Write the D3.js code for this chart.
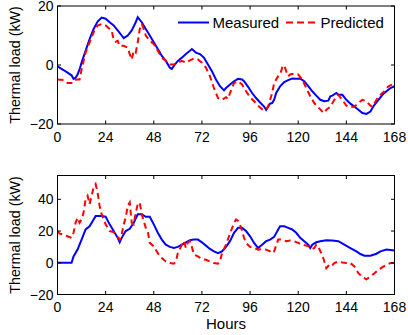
<!DOCTYPE html>
<html><head><meta charset="utf-8">
<script src="https://cdn.jsdelivr.net/npm/d3@7"></script>
<style>body{margin:0;background:#fff}svg{display:block}text{font-family:"Liberation Sans",Arial,sans-serif;fill:#000}</style>
</head><body>
<svg id="c" width="408" height="335"></svg>
<script>
const xTicks = [0,24,48,72,96,120,144,168];
const yTicksTop = [-20,0,20];
const yTicksBot = [-20,0,20,40];
const legendLabels = ["Measured","Predicted"];
const yLabel = "Thermal load (kW)";
const xLabel = "Hours";

const topMeasured = [[0,-0.5],[3,-1.7],[5,-2.6],[7,-3.5],[8,-4.7],[9,-4.3],[10,-3.2],[11,-1.5],[12,0.8],[14,4.8],[16,8.8],[18,12.2],[20,14.7],[22,16.1],[24,15.7],[26,14.5],[28,13.4],[30,11.7],[32,10],[33,9.1],[35,10],[37,11.7],[39,14.5],[40,16.2],[42,14.5],[44,12.2],[46,10],[48,7.7],[50,5.4],[52,3.1],[54,1.4],[56,-0.9],[57,-1.3],[58,-0.3],[60,1.4],[62,2.5],[64,3.7],[66,4.8],[67,5.4],[69,4.2],[71,3.7],[73,2.5],[75,0.2],[77,-2.1],[79,-4.9],[81,-7.2],[83,-8.6],[84,-7.8],[86,-6.6],[88,-5.5],[90,-4.7],[92,-4.9],[93,-5.5],[95,-7.4],[97,-9.5],[99,-11.2],[101,-12.7],[103,-14.1],[104,-15.2],[105,-14.1],[106,-13.1],[107,-12.9],[108,-11.8],[109,-9.5],[111,-7.2],[113,-5.8],[115,-5.1],[117,-4.6],[119,-4.7],[121,-4.6],[123,-5.5],[125,-7.2],[127,-8.9],[129,-10.4],[131,-11.8],[133,-12.3],[135,-12.1],[136,-10.6],[137,-10.4],[139,-9.5],[140,-10.1],[142,-10.1],[144,-11.8],[146,-13.1],[148,-14.1],[150,-15.2],[152,-16.3],[154,-16.6],[156,-15.8],[157,-14.6],[158,-13.5],[160,-11.8],[162,-10.1],[164,-8.9],[166,-7.8],[168,-7.2]];

const topPredicted = [[0,-4.9],[3,-5.1],[5,-6.1],[7,-6.1],[8,-5.1],[10,-4.9],[11,-4.9],[12,-1.5],[14,4.2],[16,7.7],[18,11.1],[20,13.4],[22,13.9],[24,13.4],[26,12.2],[27,11.7],[28,8.6],[29,7.9],[30,8.2],[31,6.5],[33,6.5],[35,5.9],[36,3.7],[37,1.9],[38,4.8],[39,4.2],[40,7.7],[41,12.2],[42,13.9],[43,12.2],[44,10],[46,8.2],[48,7.1],[50,4.8],[52,2.5],[54,1.4],[56,0.2],[58,0.2],[60,0.8],[62,1.4],[64,0.8],[66,1.6],[68,2.2],[70,1.9],[72,0.8],[74,-0.9],[76,-3.8],[78,-7.8],[80,-11.2],[82,-11.8],[84,-10.9],[85,-11.5],[86,-9.5],[88,-6.1],[90,-5.5],[92,-6.6],[94,-8.9],[96,-10.9],[98,-12.3],[100,-13.8],[102,-15],[104,-15.2],[105,-14.1],[106,-11.8],[107,-9.5],[108,-6.1],[110,-3.8],[111,-3.2],[112,-0.9],[113,-0.1],[114,-2.1],[115,-3.8],[116,-3.2],[118,-2.9],[120,-3.2],[122,-4.9],[124,-7.8],[126,-10.6],[128,-12.9],[130,-14.3],[132,-15.8],[133,-16.3],[134,-15.2],[136,-14.1],[138,-11.8],[140,-10.1],[142,-11.8],[144,-13.8],[146,-14.3],[148,-14.1],[150,-12.9],[152,-11.8],[154,-12.3],[156,-13.8],[157,-14.1],[159,-11.8],[161,-10.1],[163,-8.9],[165,-7.2],[167,-6.6],[168,-6.1]];

const botMeasured = [[0,0],[7,0],[8,4],[10,8.3],[12,14.6],[14,21],[16,23],[18,27.3],[19,29.4],[22,29.4],[24,29],[26,24.2],[28,20],[30,15.7],[31,12.9],[32,15.7],[34,20],[36,21.4],[38,25.2],[40,30.5],[42,30.5],[44,29],[46,29],[48,24.2],[50,18.9],[52,14.6],[54,11.4],[56,10],[58,9.3],[60,10],[62,11.4],[64,12.9],[66,14.2],[68,14.6],[70,14.6],[72,12.9],[74,10.8],[76,8.7],[78,7.2],[80,6.1],[82,7.2],[84,10],[86,13.6],[88,18.9],[90,22],[92,22],[94,20],[96,16.7],[98,12.5],[100,9.3],[102,11.4],[104,13.6],[106,14.6],[108,16.3],[110,21],[111,23],[113,23],[115,22],[117,21],[119,18.9],[121,15.7],[123,13.6],[125,11.4],[126,9.3],[127,11.4],[129,12.9],[131,13.6],[134,14.2],[137,14],[140,13.6],[143,11.4],[146,9.3],[149,7.2],[151,5.5],[153,4.4],[156,4.4],[159,5.7],[161,7.2],[164,8.3],[168,7.8]];

const botPredicted = [[0,20],[1,18.4],[3,17.8],[5,16.7],[7,15.7],[8,18.9],[9,25.2],[10,28.4],[11,25.2],[12,27.3],[13,31.6],[14,40],[15,42.2],[16,36.9],[17,42.2],[18,47.5],[19,49.6],[20,44.3],[21,35.8],[22,30.5],[24,24.2],[26,20],[28,19.3],[30,16.3],[31,14.6],[32,17.8],[33,24.2],[34,28.4],[35,35.8],[36,38],[37,25.2],[38,24.2],[39,31.6],[40,36.9],[41,38],[42,30.5],[43,26.3],[44,22],[45,20],[46,12.5],[48,10.4],[50,6.1],[52,3],[54,0.8],[56,-0.2],[58,-0.6],[59,0.8],[60,6.1],[62,11.4],[63,13.6],[64,9.3],[65,12.9],[66,13.6],[67,10],[68,5.1],[70,4],[72,2.3],[74,1.9],[76,0.8],[78,-0.2],[80,-0.6],[81,0.8],[82,6.1],[84,11.4],[86,18.4],[88,25.2],[89,27.3],[90,26.3],[91,24.2],[92,20],[93,15.7],[94,12.5],[96,10],[98,9.3],[100,8.3],[102,8.7],[104,8.3],[106,7.2],[107,6.1],[108,7.2],[110,14.6],[112,14.6],[114,13.6],[116,14],[118,13.6],[120,12.5],[122,11.4],[124,10.8],[126,10],[127,8.7],[128,9.3],[129,11.4],[130,10.4],[131,7.2],[132,5.1],[133,0.8],[134,-3.4],[135,-1.9],[136,-2.8],[138,-0.2],[140,0.8],[142,0.2],[144,-0.2],[146,-0.2],[148,-2.3],[150,-6.6],[152,-9.1],[154,-10.4],[156,-8.7],[158,-6.6],[160,-4.4],[162,-2.8],[164,-1.3],[166,-0.2],[168,-0.2]];

const svg = d3.select("#c");
const L = 57.5, R = 394.5;
const x = d3.scaleLinear().domain([0,168]).range([L,R]);
const panels = [
  {top:6, bot:124, dom:[-20,20], ticks:yTicksTop, m:topMeasured, p:topPredicted, legend:true, xl:false},
  {top:175.5, bot:294.5, dom:[-20,55], ticks:yTicksBot, m:botMeasured, p:botPredicted, legend:false, xl:true}
];
panels.forEach((P,i)=>{
  const y = d3.scaleLinear().domain(P.dom).range([P.bot,P.top]);
  const g = svg.append("g");
  const cid = "clip"+i;
  svg.append("clipPath").attr("id",cid).append("rect").attr("x",L).attr("y",P.top).attr("width",R-L).attr("height",P.bot-P.top);
  const line = d3.line().x(d=>x(d[0])).y(d=>y(d[1]));
  g.append("path").datum(P.m).attr("d",line).attr("fill","none").attr("stroke","#0000ff").attr("stroke-width",2).attr("clip-path",`url(#${cid})`);
  g.append("path").datum(P.p).attr("d",line).attr("fill","none").attr("stroke","#ff0000").attr("stroke-width",2).attr("stroke-dasharray","6,4").attr("clip-path",`url(#${cid})`);
  g.append("rect").attr("x",L).attr("y",P.top).attr("width",R-L).attr("height",P.bot-P.top).attr("fill","none").attr("stroke","#000").attr("stroke-width",1);
  const tl = 3.5;
  xTicks.forEach(t=>{
    g.append("line").attr("x1",x(t)).attr("x2",x(t)).attr("y1",P.bot).attr("y2",P.bot-tl).attr("stroke","#000");
    g.append("line").attr("x1",x(t)).attr("x2",x(t)).attr("y1",P.top).attr("y2",P.top+tl).attr("stroke","#000");
    g.append("text").attr("x",x(t)).attr("y",P.bot+17.5).attr("text-anchor","middle").attr("font-size",14).text(t);
  });
  P.ticks.forEach(t=>{
    g.append("line").attr("x1",L).attr("x2",L+tl).attr("y1",y(t)).attr("y2",y(t)).attr("stroke","#000");
    g.append("line").attr("x1",R).attr("x2",R-tl).attr("y1",y(t)).attr("y2",y(t)).attr("stroke","#000");
    g.append("text").attr("x",L-4).attr("y",y(t)).attr("dy","0.37em").attr("text-anchor","end").attr("font-size",14).text(t<0?"\u2212"+Math.abs(t):t);
  });
  g.append("text").attr("transform",`translate(20,${(P.top+P.bot)/2}) rotate(-90)`).attr("text-anchor","middle").attr("font-size",14.3).text(yLabel);
  if(P.xl){
    g.append("text").attr("x",(L+R)/2).attr("y",P.bot+34).attr("text-anchor","middle").attr("font-size",15).text(xLabel);
  }
  if(P.legend){
    const ly = 22.5;
    g.append("line").attr("x1",178).attr("x2",209).attr("y1",ly).attr("y2",ly).attr("stroke","#0000ff").attr("stroke-width",2);
    g.append("text").attr("x",212.5).attr("y",ly).attr("dy","0.35em").attr("font-size",15).text(legendLabels[0]);
    g.append("line").attr("x1",286).attr("x2",316).attr("y1",ly).attr("y2",ly).attr("stroke","#ff0000").attr("stroke-width",2).attr("stroke-dasharray","7,4");
    g.append("text").attr("x",320.5).attr("y",ly).attr("dy","0.35em").attr("font-size",15).text(legendLabels[1]);
  }
});
</script>
</body></html>
